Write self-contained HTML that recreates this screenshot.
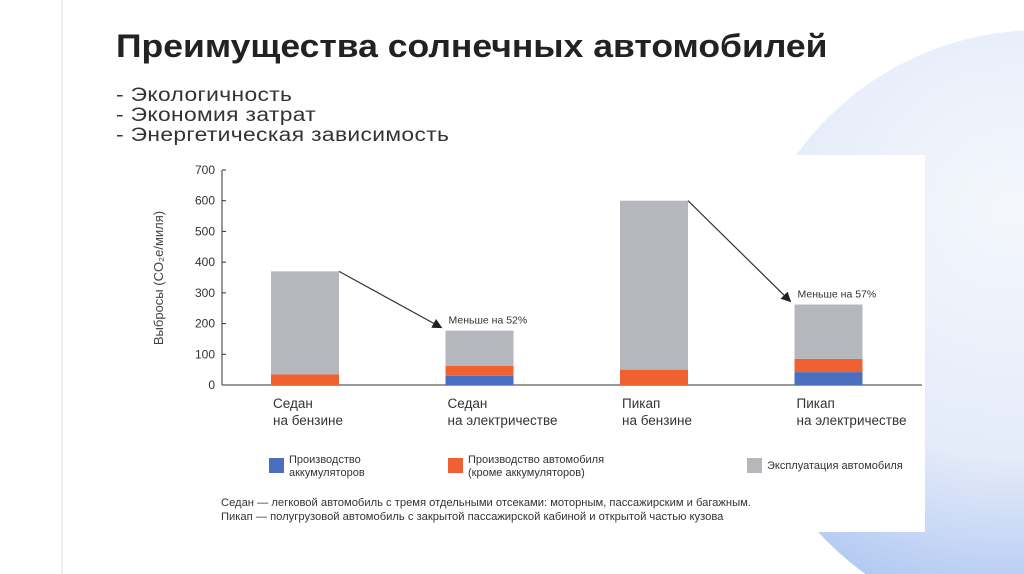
<!DOCTYPE html>
<html><head><meta charset="utf-8"><style>
html,body{margin:0;width:1024px;height:574px;overflow:hidden}
body{background:#fff;position:relative;font-family:"Liberation Sans","Noto Sans CJK SC",sans-serif}
#bg{position:absolute;left:0;top:0}
#title{position:absolute;left:116px;top:28px;font-size:32px;font-weight:bold;color:#222;margin:0;transform:scaleX(1.11);transform-origin:0 0;white-space:nowrap}
#bullets{position:absolute;left:116px;top:86px;font-size:19px;line-height:20px;color:#333;transform:scaleX(1.2);transform-origin:0 0;letter-spacing:0.3px;white-space:nowrap}
#chartbox{position:absolute;left:150px;top:155px;width:775px;height:377px;background:#fff}
</style></head><body>
<svg id="bg" width="1024" height="574">
<defs><radialGradient id="g" cx="0.45" cy="0.3" r="0.75"><stop offset="0" stop-color="#f4f7fc"/><stop offset="0.55" stop-color="#e4ebf9"/><stop offset="1" stop-color="#9fbcf0"/></radialGradient></defs>
<circle cx="1040" cy="330" r="300" fill="url(#g)"/>
<line x1="62" y1="0" x2="62" y2="574" stroke="#eee" stroke-width="2"/>
</svg>
<h1 id="title">Преимущества солнечных автомобилей</h1>
<div id="bullets">
<div>- Экологичность</div>
<div>- Экономия затрат</div>
<div>- Энергетическая зависимость</div>
</div>
<div id="chartbox"></div>
<svg id="chart" width="1024" height="574" style="position:absolute;left:0;top:0"></svg>
<script>
const categories=[["Седан","на бензине"],["Седан","на электричестве"],["Пикап","на бензине"],["Пикап","на электричестве"]];
const battery=[0,30,0,42];
const production=[35,32,50,43];
const operation=[335,115,550,177];
const yTicks=[0,100,200,300,400,500,600,700];
const notes=["","Меньше на 52%","","Меньше на 57%"];
const svg=document.getElementById('chart');
const NS='http://www.w3.org/2000/svg';
const y=v=>385-v*215/700;
const xc=i=>305+i*174.5;
const bw=68;
function mk(t,a,txt){const e=document.createElementNS(NS,t);for(const k in a)e.setAttribute(k,a[k]);if(txt!=null)e.textContent=txt;svg.appendChild(e);return e;}
const defs=mk('defs',{});
defs.innerHTML='<marker id="ah" markerWidth="10" markerHeight="10" refX="9" refY="5" orient="auto" markerUnits="userSpaceOnUse"><path d="M0,0 L10,5 L0,10z" fill="#222"/></marker>';
const ax=mk('line',{x1:222,y1:385,x2:922,y2:385,stroke:'#333','stroke-width':1});

const yl=mk('line',{x1:222,y1:170,x2:222,y2:385,stroke:'#333','stroke-width':1});

yTicks.forEach(t=>{const e=mk('text',{x:215,y:y(t)+4,'text-anchor':'end','font-size':12,fill:'#333'},t);

const tk=mk('line',{x1:222,y1:y(t),x2:226,y2:y(t),stroke:'#333'});});
const yt=mk('text',{x:0,y:0,transform:'translate(163,278) rotate(-90)','text-anchor':'middle','font-size':13,fill:'#444'},'Выбросы (CO₂e/миля)');

categories.forEach((c,i)=>{
 const x0=xc(i)-bw/2;let base=0;
 [[battery,'#4a6fc0','battery'],[production,'#ef6131','production'],[operation,'#b4b7bc','operation']].forEach(([arr,col,nm])=>{
  const v=arr[i];if(v>0){const r=mk('rect',{x:x0,y:y(base+v),width:bw,height:y(base)-y(base+v),fill:col});
  }
  base+=v;});
 const t=mk('text',{x:x0+2,y:408,'font-size':13.5,fill:'#333'});
 
 c.forEach((s,k)=>{const ts=document.createElementNS(NS,'tspan');ts.setAttribute('x',x0+2);ts.setAttribute('dy',k?17:0);ts.textContent=s;t.appendChild(ts);});
 if(notes[i]){const tot=battery[i]+production[i]+operation[i];
  const n=mk('text',{x:x0+3,y:y(tot)-7,'font-size':10.5,fill:'#333'},notes[i]);
  
  const p=i-1,ptot=battery[p]+production[p]+operation[p];
  const a=mk('line',{x1:xc(p)+bw/2,y1:y(ptot),x2:x0-4,y2:y(tot)-3,stroke:'#333','stroke-width':1.2,'marker-end':'url(#ah)'});
  }
});
const leg=[['#4a6fc0',269,['Производство','аккумуляторов']],['#ef6131',448,['Производство автомобиля','(кроме аккумуляторов)']],['#b4b7bc',747,['Эксплуатация автомобиля']]];
leg.forEach(([col,x,lines])=>{
 const r=mk('rect',{x:x,y:458,width:15,height:15,fill:col});
 const t=mk('text',{x:x+20,y:lines.length>1?463:469,'font-size':11,fill:'#333'});
 lines.forEach((s,k)=>{const ts=document.createElementNS(NS,'tspan');ts.setAttribute('x',x+20);ts.setAttribute('dy',k?13:0);ts.textContent=s;t.appendChild(ts);});
});
const f1=mk('text',{x:221,y:506,'font-size':11.2,fill:'#333'},'Седан — легковой автомобиль с тремя отдельными отсеками: моторным, пассажирским и багажным.');

const f2=mk('text',{x:221,y:520,'font-size':11.2,fill:'#333'},'Пикап — полугрузовой автомобиль с закрытой пассажирской кабиной и открытой частью кузова');

</script>
</body></html>
